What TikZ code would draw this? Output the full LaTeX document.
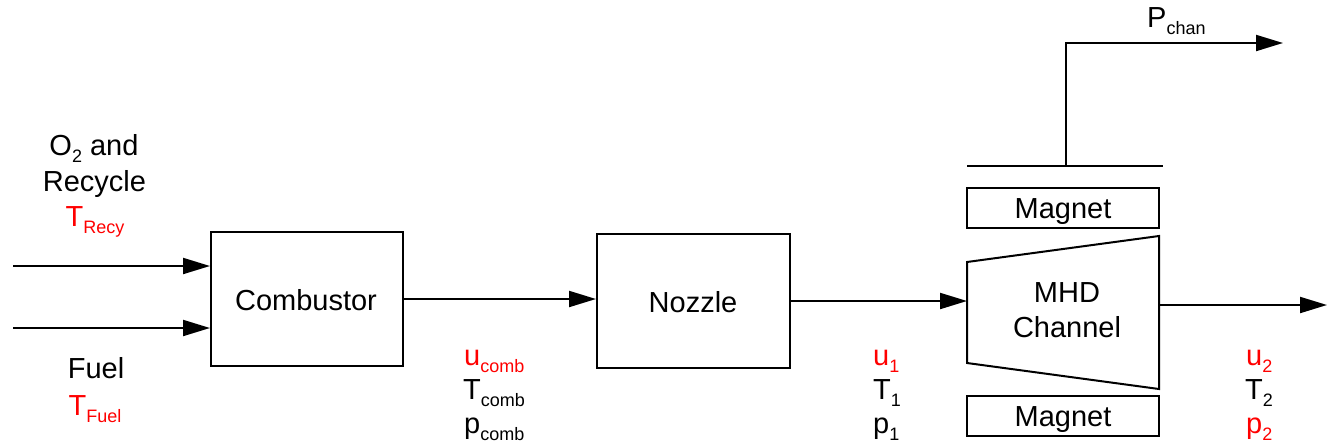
\documentclass[tikz,border=0pt]{standalone}
\usepackage{fontspec}
\setmainfont{Liberation Sans}
\usetikzlibrary{arrows.meta}
\definecolor{lblred}{RGB}{255,0,0}
\newcommand\sbs[1]{\raisebox{-7pt}{\fontsize{18}{18}\selectfont #1}}
\begin{document}
\begin{tikzpicture}[x=1pt,y=-1pt,
  every node/.style={font=\fontsize{29}{34}\selectfont, inner sep=0pt},
  blk/.style={draw, line width=2pt, rectangle},
  flow/.style={line width=2pt, -{Triangle[length=27pt,width=16pt]}},
  plain/.style={line width=2pt},
  lbl/.style={anchor=base},
  lblw/.style={anchor=base west},
  redtxt/.style={text=lblred}]
\useasboundingbox (0,0) rectangle (1327,445);

% blocks
\node[blk, minimum width=192pt, minimum height=134pt] (comb) at (307,299) {};
\node[lbl] (combtxt) at (306,310) {Combustor};
\node[blk, minimum width=193pt, minimum height=134pt] (noz) at (693.5,301) {};
\node[lbl] (noztxt) at (693,312) {Nozzle};
\node[blk, minimum width=192pt, minimum height=40pt] (magtop) at (1063,208) {};
\node[lbl] (magtoptxt) at (1063,218) {Magnet};
\node[blk, minimum width=192pt, minimum height=40pt] (magbot) at (1063,416) {};
\node[lbl] (magbottxt) at (1063,426) {Magnet};

% MHD channel (trapezoid)
\draw[plain, line join=miter] (967,262) -- (1159,236) -- (1159,389) -- (967,363) -- cycle;
\node[lbl] (mhd1) at (1067,302) {MHD};
\node[lbl] (mhd2) at (1067,337) {Channel};
\coordinate (mhdin) at (967,302);
\coordinate (mhdout) at (1159,305);
\coordinate (out) at (1327,305);

% electrode bus and power output
\coordinate (busL) at (967,166);
\coordinate (busR) at (1163,166);
\coordinate (tap) at (1066,166);
\coordinate (pout) at (1283,43);
\draw[plain] (busL) -- (busR);
\draw[flow] (tap) |- (pout);
\node[lblw] (pchan) at (1147,27) {P\sbs{chan}};

% inputs
\coordinate (in1) at (13,266);
\coordinate (in2) at (13,328);
\draw[flow] (in1) -- (in1 -| comb.west);
\draw[flow] (in2) -- (in2 -| comb.west);
\node[lbl] (o2) at (94,155) {O\sbs{2} and};
\node[lbl] (recy) at (94.5,191) {Recycle};
\node[lbl, redtxt] (trecy) at (95,226) {T\sbs{Recy}};
\node[lbl] (fuel) at (96,378) {Fuel};
\node[lbl, redtxt] (tfuel) at (95,415) {T\sbs{Fuel}};

% connections
\draw[flow] (comb.east) -- (comb.east -| noz.west);
\draw[flow] (noz.east) -- (noz.east -| mhdin);
\draw[flow] (mhdout) -- (out);

% state labels
\node[lblw, redtxt] (ucomb) at (464,365) {u\sbs{comb}};
\node[lblw] (tcomb) at (463,399) {T\sbs{comb}};
\node[lblw] (pcomb) at (464,433) {p\sbs{comb}};
\node[lblw, redtxt] (u1) at (873,365) {u\sbs{1}};
\node[lblw] (t1) at (873,399) {T\sbs{1}};
\node[lblw] (p1) at (873,433) {p\sbs{1}};
\node[lblw, redtxt] (u2) at (1246,365) {u\sbs{2}};
\node[lblw] (t2) at (1245,399) {T\sbs{2}};
\node[lblw, redtxt] (p2) at (1246,433) {p\sbs{2}};
\end{tikzpicture}
\end{document}
